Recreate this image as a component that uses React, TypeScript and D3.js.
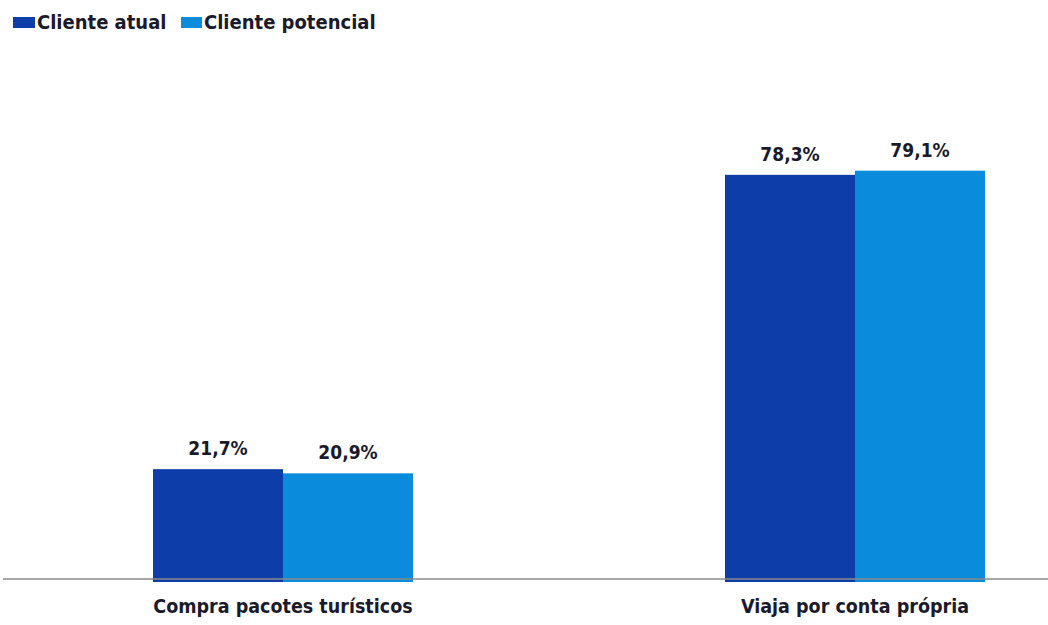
import React from "react";
import * as d3 from "d3";

const categories = ["Compra pacotes turísticos", "Viaja por conta própria"];
const seriesNames = ["Cliente atual", "Cliente potencial"];
const clienteAtual = [21.7, 78.3];
const clientePotencial = [20.9, 79.1];
const colors = ["#0D3DA8", "#0B8BDC"];

const W = 1048;
const H = 625;
const baseY = 582;
const axisY = 579;

export default function App() {
  const series = [clienteAtual, clientePotencial];
  const x = d3.scalePoint<string>().domain(categories).range([283, 855]);
  const xs = d3.scaleBand<string>().domain(seriesNames).range([-130, 130]).padding(0);
  const y = d3.scaleLinear().domain([0, 100]).range([baseY, baseY - 520]);
  const font = "'DejaVu Sans Condensed', 'DejaVu Sans', sans-serif";
  const fmt = (v: number) => v.toFixed(1).replace(".", ",") + "%";

  return (
    <svg width={W} height={H} style={{ position: "absolute", left: 0, top: 0, background: "#fff" }}>
      {/* legend */}
      <g fontFamily={font} fontWeight="bold" fontSize={20} fill="#1a1a2a">
        <rect x={13} y={17} width={22} height={11} fill={colors[0]} />
        <text x={37} y={29}>{seriesNames[0]}</text>
        <rect x={181} y={17} width={21} height={11} fill={colors[1]} />
        <text x={204} y={29}>{seriesNames[1]}</text>
      </g>
      {/* bars */}
      {categories.map((c, i) => (
        <g key={c}>
          {seriesNames.map((s, j) => {
            const v = series[j][i];
            const bx = (x(c) as number) + (xs(s) as number);
            return (
              <g key={s}>
                <rect x={bx} y={y(v)} width={xs.bandwidth()} height={baseY - y(v)} fill={colors[j]} />
                <text
                  x={bx + xs.bandwidth() / 2}
                  y={y(v) - 14}
                  textAnchor="middle"
                  fontFamily={font}
                  fontWeight="bold"
                  fontSize={19}
                  fill="#1a1a2a"
                >
                  {fmt(v)}
                </text>
              </g>
            );
          })}
          <text
            x={x(c) as number}
            y={613}
            textAnchor="middle"
            fontFamily={font}
            fontWeight="bold"
            fontSize={19.5}
            fill="#1a1a2a"
          >
            {c}
          </text>
        </g>
      ))}
      <line x1={3} x2={W} y1={axisY} y2={axisY} stroke="#8a8a8a" strokeWidth={1.5} />
    </svg>
  );
}
